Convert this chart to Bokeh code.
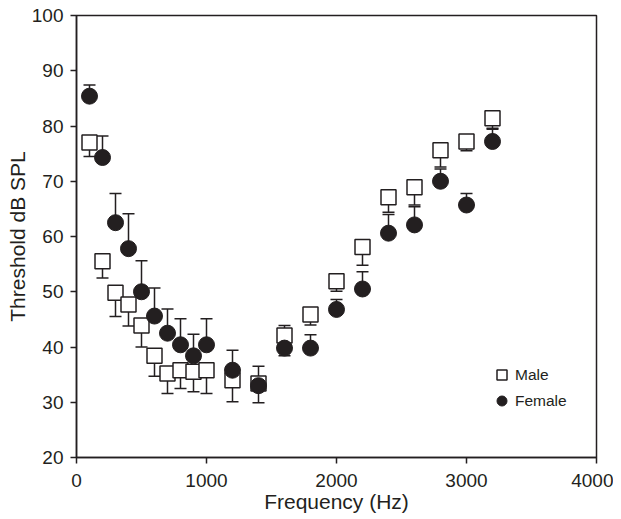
from bokeh.plotting import figure
from bokeh.models import Legend, LegendItem, FixedTicker, Range1d
from bokeh.embed import file_html
from bokeh.resources import INLINE

freq = [100, 200, 300, 400, 500, 600, 700, 800, 900, 1000, 1200, 1400,
        1600, 1800, 2000, 2200, 2400, 2600, 2800, 3000, 3200]
male = [77.0, 55.5, 49.8, 47.7, 43.9, 38.4, 35.2, 35.8, 35.5, 35.8, 34.0, 33.4,
        42.1, 45.9, 51.9, 58.1, 67.1, 68.9, 75.6, 77.2, 81.4]
male_err = [74.5, 52.5, 45.5, 43.8, 40.0, 34.7, 31.6, 32.5, 31.9, 31.6, 30.1, 29.9,
            38.4, 44.0, 50.1, 54.8, 64.4, 65.7, 72.6, 75.5, 79.6]
female = [85.4, 74.3, 62.5, 57.8, 50.0, 45.6, 42.5, 40.4, 38.4, 40.4, 35.8, 33.0,
          39.8, 39.8, 46.8, 50.5, 60.6, 62.1, 70.0, 65.7, 77.2]
female_err = [87.4, 78.2, 67.8, 64.1, 55.6, 50.7, 46.9, 45.1, 42.3, 45.1, 39.4, 36.5,
              43.9, 42.2, 48.6, 53.6, 64.0, 65.4, 72.2, 67.8, 79.4]
x_ticks = [0, 1000, 2000, 3000, 4000]
y_ticks = [20, 30, 40, 50, 60, 70, 80, 90, 100]

INK = "#231f20"
FONT = "Liberation Sans"

p = figure(width=613, height=513, frame_width=520, frame_height=442,
           x_range=Range1d(0, 4000), y_range=Range1d(20, 100),
           output_backend="svg", toolbar_location=None,
           min_border_left=76, min_border_top=15, min_border_right=17, min_border_bottom=56)
p.grid.visible = False
p.outline_line_color = INK
p.outline_line_width = 1.5
p.background_fill_color = "white"
p.border_fill_color = "white"

for ax in (p.xaxis[0], p.yaxis[0]):
    ax.axis_line_color = INK
    ax.axis_line_width = 1.5
    ax.major_tick_line_color = INK
    ax.major_tick_line_width = 1.5
    ax.major_tick_in = 0
    ax.major_tick_out = 6
    ax.minor_tick_line_color = None
    ax.major_label_text_font = FONT
    ax.major_label_text_font_size = "19px"
    ax.major_label_text_color = INK
    ax.axis_label_text_font = FONT
    ax.axis_label_text_font_size = "21px"
    ax.axis_label_text_font_style = "normal"
    ax.axis_label_text_color = INK

p.xaxis.ticker = FixedTicker(ticks=x_ticks)
p.yaxis.ticker = FixedTicker(ticks=y_ticks)
p.xaxis.axis_label = "Frequency (Hz)"
p.yaxis.axis_label = "Threshold dB SPL"
p.xaxis.major_label_standoff = 10
p.yaxis.major_label_standoff = 7
p.xaxis.axis_label_standoff = 0
p.yaxis.axis_label_standoff = 0

# error bars
p.segment(x0=freq, y0=male, x1=freq, y1=male_err, line_color=INK, line_width=1.5)
p.scatter(x=freq, y=male_err, marker="dash", size=12, line_color=INK, line_width=1.5)
p.segment(x0=freq, y0=female, x1=freq, y1=female_err, line_color=INK, line_width=1.5)
p.scatter(x=freq, y=female_err, marker="dash", size=12, line_color=INK, line_width=1.5)

# markers
male_r = p.scatter(x=freq, y=male, marker="square", size=15, fill_color="white",
                   line_color=INK, line_width=1.5)
female_r = p.scatter(x=freq, y=female, marker="circle", size=16, fill_color=INK,
                     line_color=INK, line_width=1)

legend = Legend(items=[LegendItem(label="Male", renderers=[male_r]),
                       LegendItem(label="Female", renderers=[female_r])],
                location=(413, 44), padding=0, margin=0, spacing=1,
                glyph_width=25, glyph_height=25, label_standoff=1,
                border_line_color=None, background_fill_alpha=0,
                label_text_font=FONT, label_text_font_size="15.5px",
                label_text_color=INK)
p.add_layout(legend, "center")

open("out.html", "w").write(file_html(p, INLINE))
